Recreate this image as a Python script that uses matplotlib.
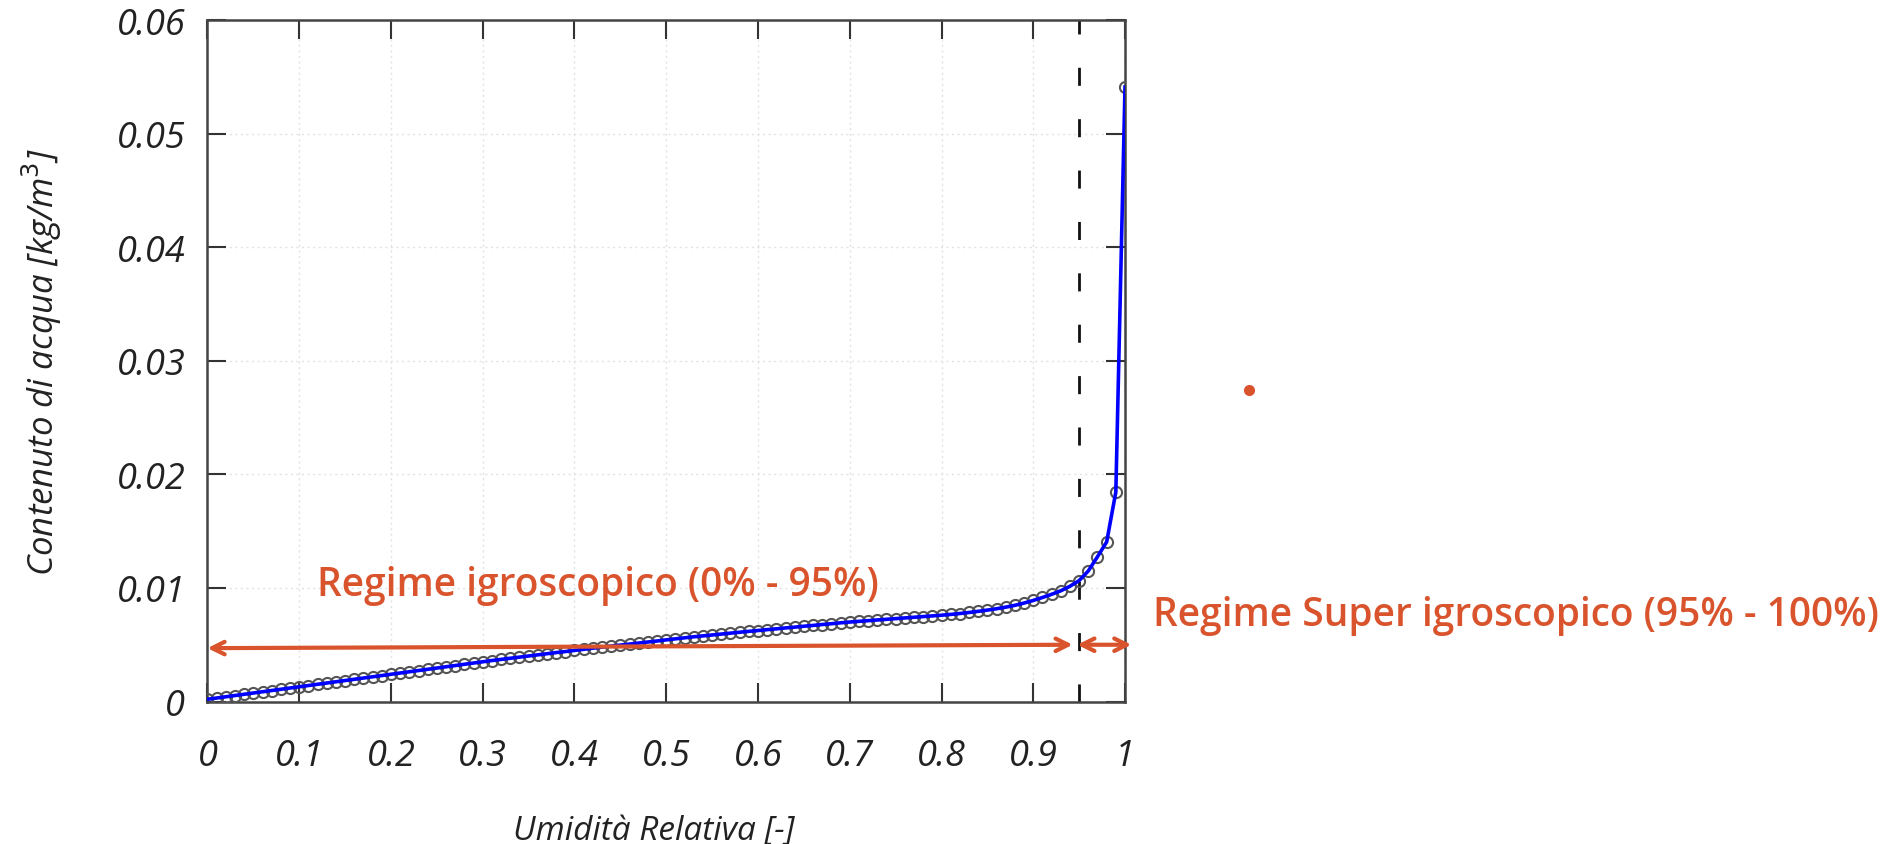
import matplotlib
matplotlib.use("Agg")
import matplotlib.pyplot as plt
from matplotlib.lines import Line2D

# ---- data ----
rh = [round(0.01 * i, 2) for i in range(101)]
water = [
    0.00020, 0.00031, 0.00042, 0.00053, 0.00064, 0.00075, 0.00086, 0.00097, 0.00108, 0.00119,
    0.00130, 0.00141, 0.00152, 0.00163, 0.00174, 0.00185, 0.00196, 0.00207, 0.00218, 0.00229,
    0.00240, 0.00251, 0.00262, 0.00273, 0.00284, 0.00295, 0.00306, 0.00317, 0.00328, 0.00339,
    0.00350, 0.00361, 0.00371, 0.00381, 0.00391, 0.00401, 0.00411, 0.00421, 0.00431, 0.00440,
    0.00450, 0.00460, 0.00470, 0.00479, 0.00488, 0.00497, 0.00506, 0.00515, 0.00524, 0.00533,
    0.00543, 0.00552, 0.00561, 0.00570, 0.00578, 0.00586, 0.00594, 0.00602, 0.00610, 0.00618,
    0.00625, 0.00633, 0.00640, 0.00648, 0.00655, 0.00663, 0.00670, 0.00678, 0.00685, 0.00693,
    0.00700, 0.00706, 0.00712, 0.00718, 0.00724, 0.00730, 0.00736, 0.00742, 0.00748, 0.00754,
    0.00760, 0.00767, 0.00775, 0.00784, 0.00794, 0.00805, 0.00817, 0.00831, 0.00847, 0.00867,
    0.00890, 0.00916, 0.00944, 0.00975, 0.01015, 0.01065, 0.01150, 0.01275, 0.01405, 0.01845,
    0.05410,
]
x_ticks = [0, 0.1, 0.2, 0.3, 0.4, 0.5, 0.6, 0.7, 0.8, 0.9, 1]
x_tick_labels = ["0", "0.1", "0.2", "0.3", "0.4", "0.5", "0.6", "0.7", "0.8", "0.9", "1"]
y_ticks = [0, 0.01, 0.02, 0.03, 0.04, 0.05, 0.06]
y_tick_labels = ["0", "0.01", "0.02", "0.03", "0.04", "0.05", "0.06"]
threshold = 0.95
label_hyg = "Regime igroscopico (0% - 95%)"
label_super = "Regime Super igroscopico (95% - 100%)"

ORANGE = "#D9532C"
FONT = "Open Sans"

fig = plt.figure(figsize=(18.93, 8.45), dpi=100)
ax = fig.add_axes([0.1096, 0.1686, 0.4847, 0.8065])

ax.set_xlim(0, 1)
ax.set_ylim(0, 0.06)

ax.grid(True, color="#e2e2e2", linestyle=(0, (1.5, 2.5)), linewidth=1.0)
ax.set_axisbelow(True)

ax.plot(rh, water, linestyle="none", marker="o", markersize=8,
        markerfacecolor="none", markeredgecolor="#555555", markeredgewidth=1.5, zorder=3)
ax.plot(rh, water, color="#0000FF", linewidth=2.6, zorder=4)

ax.axvline(threshold, color="#111111", linewidth=2.0, linestyle=(0, (6.5, 12)), zorder=2)

# arrows
ax.annotate("", xy=(0.0, 0.0047), xytext=(threshold - 0.007, 0.0050),
            arrowprops=dict(arrowstyle="<->,head_length=0.9,head_width=0.45",
                            color=ORANGE, lw=3.0, shrinkA=0, shrinkB=0), zorder=5)
ax.annotate("", xy=(threshold - 0.002, 0.0050), xytext=(1.007, 0.0050),
            arrowprops=dict(arrowstyle="<->,head_length=0.9,head_width=0.45",
                            color=ORANGE, lw=3.0, shrinkA=0, shrinkB=0),
            annotation_clip=False, zorder=5)

ax.text(0.119, 0.0103, label_hyg, color=ORANGE, fontsize=28, family=FONT,
        weight="semibold", va="center", ha="left", zorder=6)
fig.text(1153 / 1893, 1 - 616 / 845, label_super, color=ORANGE, fontsize=28,
         family=FONT, weight="semibold", va="center", ha="left")
fig.add_artist(Line2D([1249 / 1893], [1 - 391 / 845], transform=fig.transFigure,
                      marker="o", markersize=7, color=ORANGE, linestyle="none"))

ax.set_xticks(x_ticks)
ax.set_xticklabels(x_tick_labels)
ax.set_yticks(y_ticks)
ax.set_yticklabels(y_tick_labels)

for lab in ax.get_xticklabels() + ax.get_yticklabels():
    lab.set_family(FONT)
    lab.set_style("italic")
    lab.set_fontsize(26)
    lab.set_color("#222222")

ax.tick_params(axis="both", direction="in", length=14, width=1.5, color="#333333",
               top=True, right=True)
ax.tick_params(axis="x", pad=26)
ax.tick_params(axis="y", pad=16)

for s in ax.spines.values():
    s.set_color("#444444")
    s.set_linewidth(1.8)

ax.set_xlabel("Umidità Relativa [-]", family=FONT, style="italic", fontsize=24,
              color="#222222", labelpad=26)
ax.xaxis.set_label_coords(0.486, -0.165)
ax.set_ylabel("Contenuto di acqua [kg/m$^3$]", family=FONT, style="italic", fontsize=25,
              color="#222222", labelpad=38)

fig.savefig("out.png", dpi=100)
